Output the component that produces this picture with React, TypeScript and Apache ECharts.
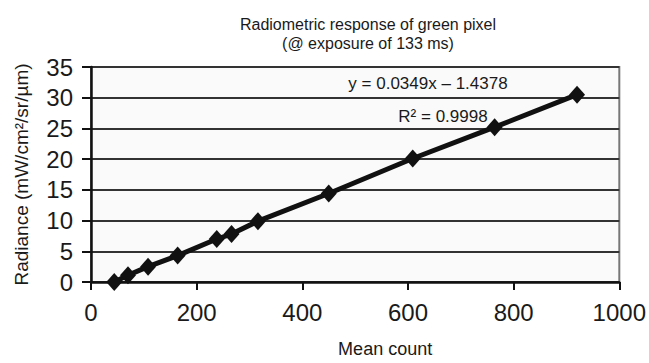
import React, { useEffect, useRef } from "react";
import * as echarts from "echarts";

const meanCount = [44, 70, 108, 164, 238, 266, 316, 450, 609, 764, 920];
const radiance = [0, 1.1, 2.5, 4.3, 7.0, 7.8, 9.9, 14.4, 20.1, 25.2, 30.5];
const titleLines = ["Radiometric response of green pixel", "(@ exposure of 133 ms)"];
const equationText = "y = 0.0349x \u2013 1.4378";
const r2Text = "R\u00b2 = 0.9998";
const xAxisName = "Mean count";
const yAxisName = "Radiance (mW/cm\u00b2/sr/\u00b5m)";

const FONT = "'Liberation Sans', Arial, Helvetica, sans-serif";

export default function App() {
  const ref = useRef<HTMLDivElement>(null);
  useEffect(() => {
    if (!ref.current) return;
    const chart = echarts.init(ref.current, null, { renderer: "svg" });
    const data = meanCount.map((x, i) => [x, radiance[i]]);
    chart.setOption({
      animation: false,
      backgroundColor: "#ffffff",
      textStyle: { fontFamily: FONT },
      grid: {
        left: 91,
        right: 24,
        top: 67,
        bottom: 77,
        show: true,
        backgroundColor: "#fafafa",
        borderColor: "#777",
        borderWidth: 2,
      },
      xAxis: {
        type: "value",
        min: 0,
        max: 1000,
        interval: 200,
        name: xAxisName,
        nameLocation: "middle",
        nameGap: 58,
        nameTextStyle: { fontSize: 18, color: "#1a1a1a", fontFamily: FONT, padding: [0, 0, 0, 60] },
        axisLine: { show: true, onZero: false, lineStyle: { color: "#111", width: 2.5 } },
        axisTick: { show: true, inside: false, length: 8, lineStyle: { color: "#111", width: 2 } },
        axisLabel: {
          fontSize: 24,
          color: "#1a1a1a",
          margin: 18,
          fontFamily: FONT,
          formatter: (v: number) => String(v),
        },
        splitLine: { show: false },
      },
      yAxis: {
        type: "value",
        min: 0,
        max: 35,
        interval: 5,
        name: yAxisName,
        nameLocation: "middle",
        nameGap: 60,
        nameRotate: 90,
        nameTextStyle: { fontSize: 19, color: "#1a1a1a", fontFamily: FONT },
        axisLine: { show: true, lineStyle: { color: "#111", width: 2.5 } },
        axisTick: { show: true, inside: false, length: 9, lineStyle: { color: "#111", width: 2 } },
        axisLabel: {
          fontSize: 24,
          color: "#1a1a1a",
          margin: 18,
          fontFamily: FONT,
          formatter: (v: number) => String(v),
        },
        splitLine: { show: true, lineStyle: { color: "#333", width: 2 } },
      },
      series: [
        {
          type: "line",
          data,
          symbol: "diamond",
          symbolSize: [16, 18],
          showAllSymbol: true,
          clip: false,
          lineStyle: { color: "#111", width: 5 },
          itemStyle: { color: "#111" },
          z: 5,
        },
      ],
      graphic: [
        {
          type: "text",
          x: 368,
          y: 24,
          style: {
            text: titleLines[0],
            fill: "#1a1a1a",
            font: `16px ${FONT}`,
            align: "center",
            verticalAlign: "middle",
          },
        },
        {
          type: "text",
          x: 368,
          y: 43,
          style: {
            text: titleLines[1],
            fill: "#1a1a1a",
            font: `16px ${FONT}`,
            align: "center",
            verticalAlign: "middle",
          },
        },
        {
          type: "text",
          x: 428,
          y: 83,
          z: 10,
          style: {
            text: equationText,
            fill: "#1a1a1a",
            font: `17px ${FONT}`,
            align: "center",
            verticalAlign: "middle",
          },
        },
        {
          type: "text",
          x: 443,
          y: 116,
          z: 10,
          style: {
            text: r2Text,
            fill: "#1a1a1a",
            font: `17px ${FONT}`,
            align: "center",
            verticalAlign: "middle",
          },
        },
      ],
    });
    return () => chart.dispose();
  }, []);
  return (
    <div
      ref={ref}
      style={{ position: "fixed", left: 0, top: 0, width: 649, height: 363 }}
    />
  );
}
